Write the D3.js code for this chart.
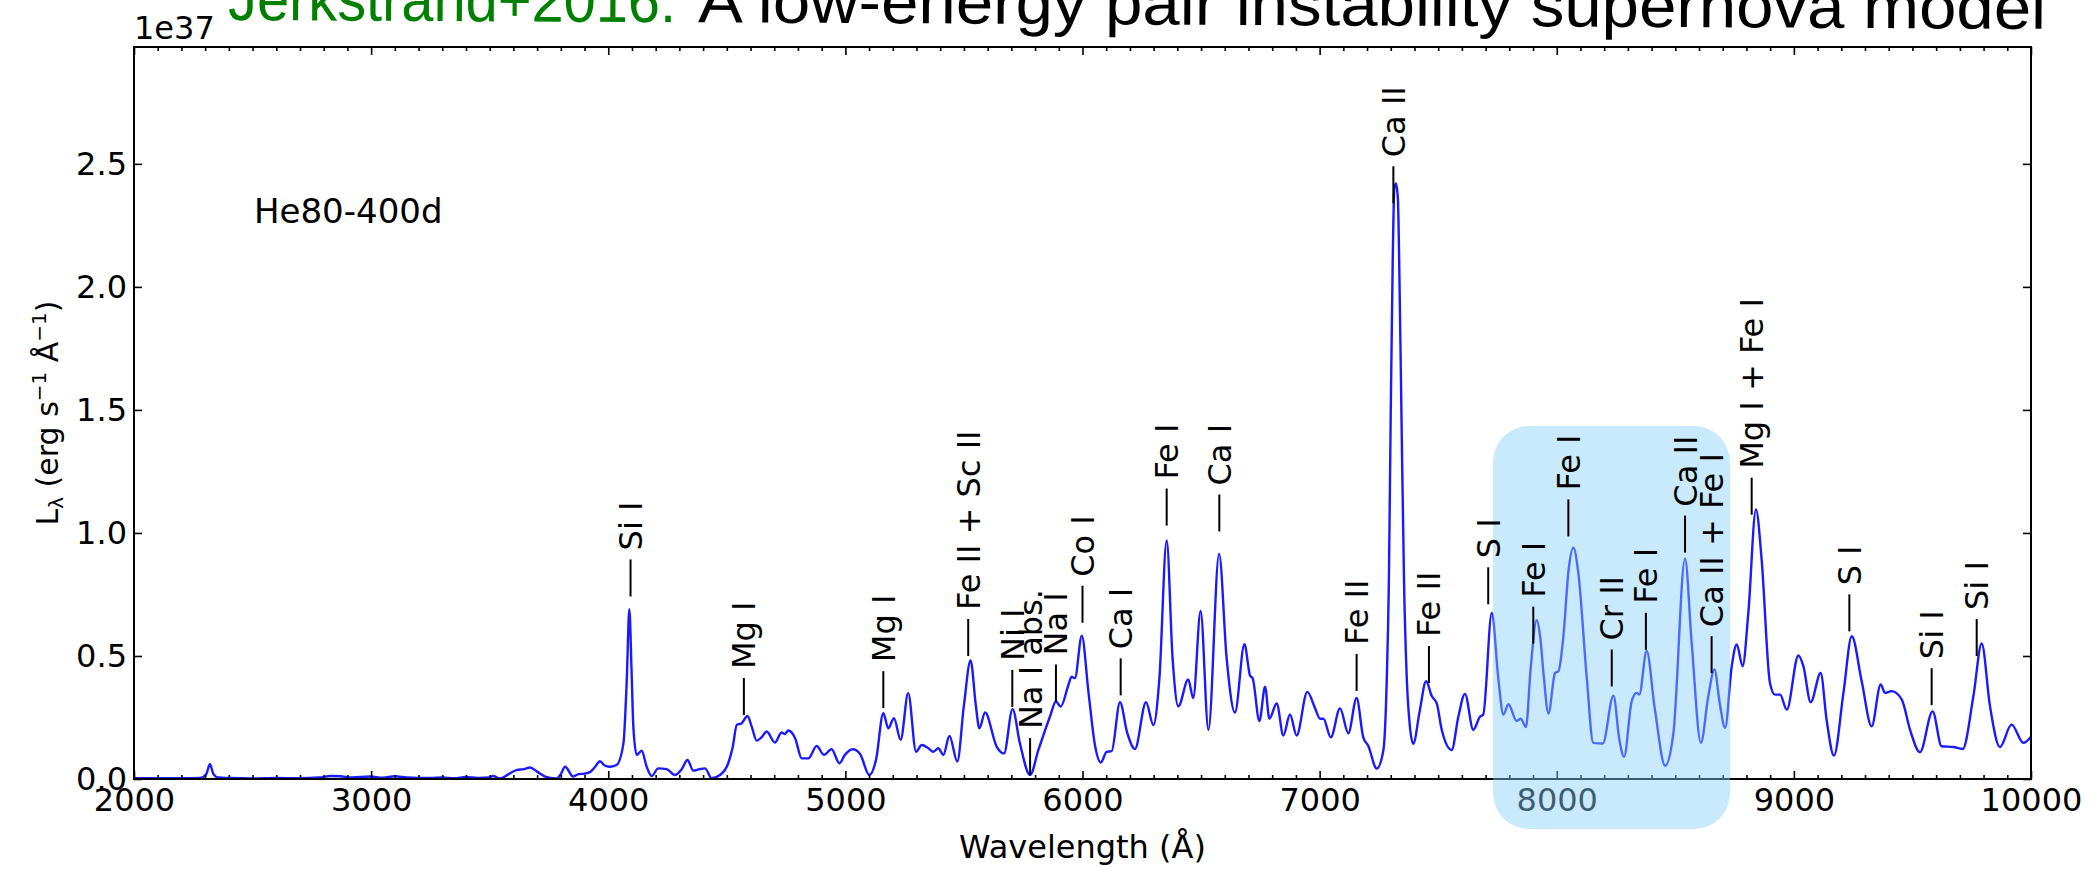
<!DOCTYPE html>
<html>
<head>
<meta charset="utf-8">
<script src="https://cdn.jsdelivr.net/npm/d3@7"></script>
<style>
  body { margin: 0; background: #fff; }
  text { font-family: "DejaVu Sans", sans-serif; }
</style>
</head>
<body>
<svg id="chart" width="2100" height="872"></svg>
<script>
// spectrum: wavelength (A) and L_lambda (1e37 erg/s/A)
const wave = [2000,2100,2200,2280,2305,2320,2335,2355,2400,2500,2600,2700,2780,2830,2870,2920,2995,3050,3100,3150,3200,3250,3300,3350,3400,3450,3500,3514,3543,3580,3615,3645,3670,3700,3741,3784,3800,3818,3852,3875,3900,3923,3945,3965,3985,4005,4035,4064,4078,4089,4098,4106,4120,4141,4162,4183,4211,4246,4282,4310,4334,4359,4385,4408,4436,4471,4506,4525,4542,4563,4587,4605,4626,4647,4668,4703,4731,4745,4759,4788,4816,4844,4879,4910,4942,4975,4998,5031,5062,5101,5129,5160,5181,5205,5233,5265,5298,5322,5350,5371,5392,5413,5439,5472,5500,5528,5550,5565,5589,5638,5669,5705,5736,5779,5814,5863,5888,5908,5940,5954,5968,5997,6025,6053,6077,6102,6123,6158,6189,6221,6268,6299,6324,6355,6380,6404,6446,6467,6498,6531,6576,6608,6643,6683,6706,6718,6746,6770,6788,6819,6847,6875,6903,6948,6981,7002,7016,7047,7086,7121,7156,7184,7205,7241,7269,7283,7292,7300,7308,7315,7322,7330,7338,7346,7356,7367,7380,7395,7421,7449,7473,7494,7515,7557,7585,7613,7648,7676,7690,7726,7754,7775,7796,7831,7848,7870,7890,7915,7930,7945,7965,7993,8007,8028,8050,8070,8091,8126,8154,8194,8239,8264,8284,8316,8337,8348,8379,8414,8457,8492,8541,8569,8608,8639,8665,8688,8710,8738,8759,8784,8808,8840,8864,8899,8920,8942,8970,9019,9040,9071,9113,9138,9169,9209,9244,9286,9328,9366,9384,9412,9455,9490,9532,9585,9623,9673,9712,9757,9792,9827,9869,9918,9968,10000];
const lum = [0.003,0.003,0.003,0.004,0.02,0.06,0.02,0.006,0.004,0.002,0.004,0.003,0.006,0.012,0.011,0.006,0.01,0.005,0.011,0.006,0.004,0.004,0.006,0.003,0.008,0.004,0.006,0.012,0.002,0.02,0.037,0.04,0.047,0.03,0.007,0.002,0.02,0.05,0.01,0.02,0.022,0.028,0.05,0.072,0.055,0.05,0.057,0.145,0.4,0.69,0.45,0.21,0.098,0.115,0.05,0.012,0.043,0.04,0.016,0.04,0.077,0.034,0.04,0.043,0.003,0.016,0.064,0.13,0.22,0.227,0.256,0.213,0.156,0.17,0.193,0.148,0.189,0.183,0.197,0.166,0.084,0.084,0.134,0.098,0.121,0.064,0.098,0.121,0.102,0.016,0.077,0.267,0.206,0.247,0.159,0.349,0.111,0.138,0.125,0.111,0.125,0.098,0.175,0.071,0.3,0.482,0.3,0.206,0.27,0.132,0.104,0.284,0.145,0.016,0.118,0.254,0.315,0.294,0.38,0.416,0.41,0.582,0.354,0.135,0.067,0.11,0.113,0.312,0.186,0.122,0.312,0.219,0.405,0.97,0.489,0.295,0.405,0.329,0.683,0.2,0.915,0.489,0.27,0.548,0.422,0.408,0.236,0.375,0.245,0.307,0.177,0.262,0.177,0.354,0.287,0.245,0.245,0.169,0.287,0.186,0.329,0.169,0.135,0.042,0.118,0.4,0.8,1.5,2.09,2.40,2.42,2.36,1.95,1.42,0.8,0.422,0.22,0.143,0.27,0.397,0.337,0.307,0.2,0.118,0.253,0.346,0.2,0.253,0.262,0.675,0.405,0.262,0.304,0.236,0.245,0.211,0.45,0.645,0.58,0.42,0.266,0.431,0.438,0.58,0.85,0.94,0.838,0.418,0.147,0.144,0.339,0.16,0.09,0.316,0.35,0.343,0.52,0.282,0.054,0.187,0.895,0.553,0.147,0.336,0.445,0.303,0.208,0.459,0.547,0.459,0.676,1.096,0.893,0.391,0.343,0.343,0.282,0.502,0.459,0.312,0.431,0.241,0.095,0.35,0.58,0.397,0.214,0.384,0.35,0.357,0.323,0.2,0.109,0.275,0.133,0.13,0.122,0.336,0.551,0.296,0.13,0.221,0.147,0.172];

// line identifications: name, wavelength, level where the marker starts
const lineNames = ["Si I","Mg I","Mg I","Fe II + Sc II","Ni I","Na I abs.","Na I","Co I","Ca I","Fe I","Ca I","Fe II","Ca II","Fe II","S I","Fe I","Fe I","Cr II","Fe I","Ca II","Ca II + Fe I","Mg I + Fe I","S I","Si I","Si I"];
const lineWave  = [4094,4572,5160,5518,5704,5779,5888,6000,6161,6355,6577,7156,7311,7461,7711,7901,8049,8232,8376,8541,8653,8822,9234,9581,9771];
const lineLevel = [0.742,0.26,0.288,0.50,0.293,0.016,0.315,0.635,0.34,1.03,1.006,0.358,2.34,0.39,0.71,0.55,0.986,0.376,0.525,0.92,0.43,1.074,0.60,0.30,0.50];

const xMajor = [2000,3000,4000,5000,6000,7000,8000,9000,10000];
const yMajor = [0.0,0.5,1.0,1.5,2.0,2.5];

const svg = d3.select("#chart");
const pl = 134, pr = 2031, pt = 47, pb = 779;

const x = d3.scaleLinear().domain([2000, 10000]).range([pl, pr]);
const y = d3.scaleLinear().domain([0, 2.975]).range([pb, pt]);

// spectrum
const pts = wave.map((w, i) => [w, lum[i]]);
const line = d3.line().x(d => x(d[0])).y(d => y(d[1])).curve(d3.curveMonotoneX);
svg.append("path")
  .datum(pts)
  .attr("d", line)
  .attr("fill", "none")
  .attr("stroke", "#1a1aff")
  .attr("stroke-width", 2.4);

// ticks on all four sides, pointing inward
const xMinor = d3.range(2000, 10001, 100).filter(v => v % 1000 !== 0);
function noDomain(g) { g.select(".domain").remove(); }

svg.append("g").attr("transform", `translate(0,${pb})`)
  .call(d3.axisBottom(x).tickValues(xMinor).tickSize(-4).tickFormat(""))
  .call(noDomain);
svg.append("g").attr("transform", `translate(0,${pb})`)
  .call(d3.axisBottom(x).tickValues(xMajor).tickSize(-8).tickPadding(9).tickFormat(d3.format("d")))
  .call(noDomain);
svg.append("g").attr("transform", `translate(0,${pt})`)
  .call(d3.axisTop(x).tickValues(xMinor).tickSize(-4).tickFormat(""))
  .call(noDomain);
svg.append("g").attr("transform", `translate(0,${pt})`)
  .call(d3.axisTop(x).tickValues(xMajor).tickSize(-8).tickFormat(""))
  .call(noDomain);
svg.append("g").attr("transform", `translate(${pl},0)`)
  .call(d3.axisLeft(y).tickValues(yMajor).tickSize(-8).tickPadding(7).tickFormat(d3.format(".1f")))
  .call(noDomain);
svg.append("g").attr("transform", `translate(${pr},0)`)
  .call(d3.axisRight(y).tickValues(yMajor).tickSize(-8).tickFormat(""))
  .call(noDomain);

svg.selectAll(".tick line").attr("stroke", "#000").attr("stroke-width", 1.6);
svg.selectAll(".tick text").attr("font-size", 32).attr("fill", "#000")
  .attr("font-family", "DejaVu Sans");

// frame
svg.append("rect")
  .attr("x", pl).attr("y", pt)
  .attr("width", pr - pl).attr("height", pb - pt)
  .attr("fill", "none").attr("stroke", "#000").attr("stroke-width", 2);

// shaded band
svg.append("rect")
  .attr("x", 1493).attr("y", 426)
  .attr("width", 237).attr("height", 403)
  .attr("rx", 36).attr("ry", 36)
  .attr("fill", "rgb(135,206,250)").attr("fill-opacity", 0.45);

// line markers
const marks = svg.append("g");
lineNames.forEach((name, i) => {
  const px = x(lineWave[i]), py = y(lineLevel[i]);
  marks.append("line")
    .attr("x1", px).attr("x2", px)
    .attr("y1", py).attr("y2", py - 37)
    .attr("stroke", "#000").attr("stroke-width", 2);
  marks.append("text")
    .attr("transform", `translate(${px},${py - 46}) rotate(-90)`)
    .attr("dy", "0.36em")
    .attr("font-size", 32)
    .text(name);
});

// model name
svg.append("text").attr("x", 254).attr("y", 223)
  .attr("font-size", 34).text("He80-400d");

// offset text
svg.append("text").attr("x", 134).attr("y", 39)
  .attr("font-size", 32).text("1e37");

// axis labels
svg.append("text")
  .attr("x", (pl + pr) / 2).attr("y", 858)
  .attr("text-anchor", "middle").attr("font-size", 32)
  .text("Wavelength (Å)");

const yl = svg.append("text")
  .attr("transform", `translate(58,${(pt + pb) / 2}) rotate(-90)`)
  .attr("text-anchor", "middle").attr("font-size", 30);
yl.append("tspan").text("L");
yl.append("tspan").attr("font-size", 20).attr("baseline-shift", "-25%").text("λ");
yl.append("tspan").text(" (erg s");
yl.append("tspan").attr("font-size", 20).attr("baseline-shift", "60%").text("−1");
yl.append("tspan").text(" Å");
yl.append("tspan").attr("font-size", 20).attr("baseline-shift", "60%").text("−1");
yl.append("tspan").text(")");

// title, partly cut at the top (pasted slightly tilted in the source)
const tg = svg.append("g").attr("transform", "rotate(0.28 228 20)");
tg.append("text").attr("x", 228).attr("y", 20)
  .style("font-family", "'Liberation Sans', Arial, sans-serif").attr("font-size", 62)
  .attr("textLength", 448).attr("lengthAdjust", "spacingAndGlyphs")
  .attr("fill", "#008000").text("Jerkstrand+2016:");
tg.append("text").attr("x", 698).attr("y", 20)
  .style("font-family", "'Liberation Sans', Arial, sans-serif").attr("font-size", 62)
  .attr("textLength", 1348).attr("lengthAdjust", "spacingAndGlyphs")
  .attr("fill", "#000").text("A low-energy pair instability supernova model");
</script>
</body>
</html>
